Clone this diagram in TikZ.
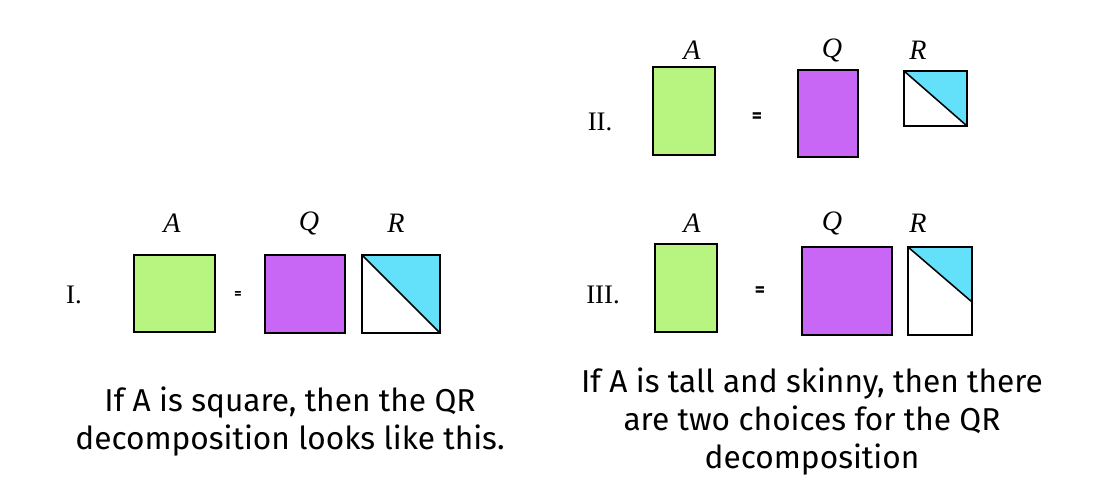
\documentclass[tikz,border=0pt]{standalone}
\usepackage{fontspec}
\usepackage{amsmath}
\usepackage{tikz}
\newfontfamily\handfont{Fira Sans}
\newfontfamily\romfont{Liberation Serif}
\definecolor{matA}{RGB}{184,245,128}
\definecolor{matQ}{RGB}{200,102,245}
\definecolor{matR}{RGB}{100,225,250}

\begin{document}
\begin{tikzpicture}[x=0.025cm, y=0.025cm,
  blk/.style={draw=black, line width=1.1pt},
  lbl/.style={font=\romfont\itshape\fontsize{20}{22}\selectfont},
  num/.style={font=\romfont\fontsize{19}{21}\selectfont},
  eq/.style={font=\handfont\bfseries\fontsize{14}{15}\selectfont},
  note/.style={font=\handfont\fontsize{22.5}{27}\selectfont, align=center}]
  \useasboundingbox (0,0) rectangle (1104,498);
  % I.
  \node[num] (n1) at (74,203) {I.};
  \filldraw[blk, fill=matA] (134,166) rectangle (215,243);
  \node[eq, font=\handfont\bfseries\fontsize{10}{11}\selectfont] (e1) at (238,203) {=};
  \filldraw[blk, fill=matQ] (265,165) rectangle (345,243);
  \draw[blk, fill=white] (362,165) rectangle (440,243);
  \fill[matR] (362,243) -- (440,243) -- (440,165) -- cycle;
  \draw[blk] (362,243) -- (440,165) (362,165) rectangle (440,243);
  \node[lbl] (a1) at (172,275) {A};
  \node[lbl] (q1) at (309,275) {Q};
  \node[lbl] (r1) at (396,275) {R};
  % II.
  \node[num] (n2) at (600,376) {II.};
  \filldraw[blk, fill=matA] (653,343) rectangle (715,431);
  \node[eq] (e2) at (757,380) {=};
  \filldraw[blk, fill=matQ] (798,341) rectangle (858,428);
  \draw[blk, fill=white] (904,372) rectangle (967,427);
  \fill[matR] (904,427) -- (967,427) -- (967,372) -- cycle;
  \draw[blk] (904,427) -- (967,372) (904,372) rectangle (967,427);
  \node[lbl] (a2) at (692,448) {A};
  \node[lbl] (q2) at (832,448) {Q};
  \node[lbl] (r2) at (918,448) {R};
  % III.
  \node[num] (n3) at (603,203) {III.};
  \filldraw[blk, fill=matA] (655,166) rectangle (717,254);
  \node[eq] (e3) at (760,206) {=};
  \filldraw[blk, fill=matQ] (802,163) rectangle (892,251);
  \draw[blk, fill=white] (908,163) rectangle (972,251);
  \fill[matR] (908,251) -- (972,251) -- (972,196) -- cycle;
  \draw[blk] (908,251) -- (972,196) (908,163) rectangle (972,251);
  \node[lbl] (a3) at (692,275) {A};
  \node[lbl] (q3) at (832,275) {Q};
  \node[lbl] (r3) at (918,275) {R};
  % notes
  \node[note] (t1) at (290,76) {If A is square, then the QR\\ decomposition looks like this.};
  \node[note] (t2) at (812,76) {If A is tall and skinny, then there\\ are two choices for the QR\\ decomposition};
\end{tikzpicture}
\end{document}
